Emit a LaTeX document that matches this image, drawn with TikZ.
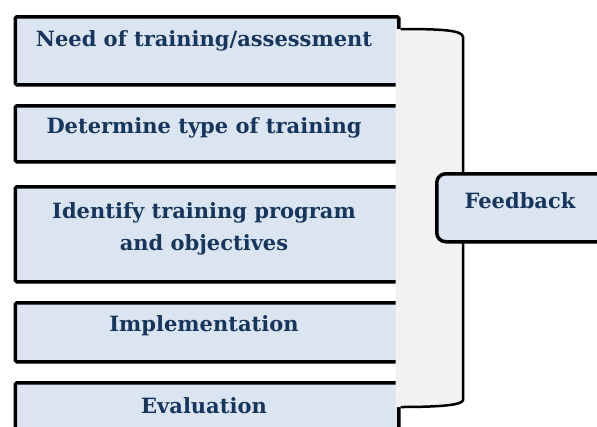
\documentclass[tikz,border=0pt]{standalone}
\usepackage{fontspec}
\setmainfont{DejaVu Serif}
\definecolor{txtblue}{RGB}{23,54,93}
\definecolor{boxfill}{RGB}{219,229,241}
\definecolor{bracegrey}{RGB}{242,242,242}
\tikzset{
  stepbox/.style={draw=black, line width=3.5pt, fill=boxfill, rounded corners=1.5pt, inner sep=0pt},
  steptext/.style={text=txtblue, font=\bfseries\fontsize{21}{32}\selectfont, align=center, inner sep=0pt},
  fbbox/.style={draw=black, line width=3.5pt, fill=boxfill, rounded corners=9pt, inner sep=0pt},
}
\begin{document}
\begin{tikzpicture}[x=1pt,y=-1pt]
\useasboundingbox (0,0) rectangle (597,426);
\clip (0,0) rectangle (597,426);
% step boxes
\node[stepbox, minimum width=383.5pt, minimum height=68pt, anchor=north west] (b1) at (13.5,15) {};
\node[stepbox, minimum width=383.5pt, minimum height=56pt, anchor=north west] (b2) at (13.5,104) {};
\node[stepbox, minimum width=383.5pt, minimum height=95pt, anchor=north west] (b3) at (13.5,185) {};
\node[stepbox, minimum width=383.5pt, minimum height=59pt, anchor=north west] (b4) at (13.5,301) {};
\node[stepbox, minimum width=383.5pt, minimum height=70pt, anchor=north west] (b5) at (13.5,381) {};
% texts
\node[steptext] (t1) at (204,41) {Need of training/assessment};
\node[steptext] (t2) at (204,128) {Determine type of training};
\node[steptext] (t3) at (204,229) {Identify training program\\and objectives};
\node[steptext] (t4) at (204,326) {Implementation};
\node[steptext] (t5) at (204,406) {Evaluation};
% bracket
\coordinate (bt) at (b1.north east |- 0,29);
\coordinate (bb) at (b5.north east |- 0,407);
\fill[bracegrey] (395.5,29) .. controls (440,29) and (463,30) .. (463,37) -- (463,400) .. controls (463,405) and (440,407) .. (395.5,407) -- cycle;
\draw[line width=2.5pt, black] (bt) .. controls (440,29) and (463,30) .. (463,37) -- (463,400) .. controls (463,405) and (440,407) .. (bb);
% feedback
\node[fbbox, minimum width=174pt, minimum height=68pt, anchor=north west] (fb) at (435,172) {};
\node[steptext] (tf) at (520,201) {Feedback};
\end{tikzpicture}
\end{document}
